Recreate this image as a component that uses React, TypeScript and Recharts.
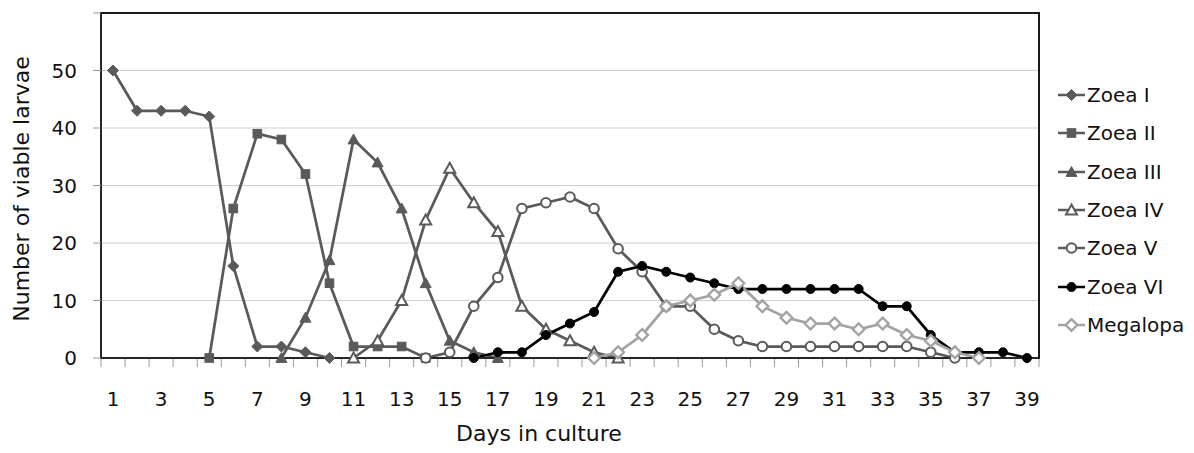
import React from 'react';
import { LineChart, Line, XAxis, YAxis, CartesianGrid, Legend, ReferenceArea } from 'recharts';

const FONT = '"DejaVu Sans", sans-serif';
const _ = null;

const days = [1,2,3,4,5,6,7,8,9,10,11,12,13,14,15,16,17,18,19,20,21,22,23,24,25,26,27,28,29,30,31,32,33,34,35,36,37,38,39];
const xTickLabels = [1,3,5,7,9,11,13,15,17,19,21,23,25,27,29,31,33,35,37,39];
const yTicks = [0,10,20,30,40,50,60];

//                1  2  3  4  5  6  7  8  9 10 11 12 13 14 15 16 17 18 19 20 21 22 23 24 25 26 27 28 29 30 31 32 33 34 35 36 37 38 39
const zoeaI =    [50,43,43,43,42,16, 2, 2, 1, 0, _, _, _, _, _, _, _, _, _, _, _, _, _, _, _, _, _, _, _, _, _, _, _, _, _, _, _, _, _];
const zoeaII =   [ _, _, _, _, 0,26,39,38,32,13, 2, 2, 2, 0, _, _, _, _, _, _, _, _, _, _, _, _, _, _, _, _, _, _, _, _, _, _, _, _, _];
const zoeaIII =  [ _, _, _, _, _, _, _, 0, 7,17,38,34,26,13, 3, 1, 0, _, _, _, _, _, _, _, _, _, _, _, _, _, _, _, _, _, _, _, _, _, _];
const zoeaIV =   [ _, _, _, _, _, _, _, _, _, _, 0, 3,10,24,33,27,22, 9, 5, 3, 1, 0, _, _, _, _, _, _, _, _, _, _, _, _, _, _, _, _, _];
const zoeaV =    [ _, _, _, _, _, _, _, _, _, _, _, _, _, 0, 1, 9,14,26,27,28,26,19,15, 9, 9, 5, 3, 2, 2, 2, 2, 2, 2, 2, 1, 0, _, _, _];
const zoeaVI =   [ _, _, _, _, _, _, _, _, _, _, _, _, _, _, _, 0, 1, 1, 4, 6, 8,15,16,15,14,13,12,12,12,12,12,12, 9, 9, 4, 1, 1, 1, 0];
const megalopa = [ _, _, _, _, _, _, _, _, _, _, _, _, _, _, _, _, _, _, _, _, 0, 1, 4, 9,10,11,13, 9, 7, 6, 6, 5, 6, 4, 3, 1, 0, _, _];

const seriesNames = ['Zoea I','Zoea II','Zoea III','Zoea IV','Zoea V','Zoea VI','Megalopa'];
const seriesKeys = ['zoeaI','zoeaII','zoeaIII','zoeaIV','zoeaV','zoeaVI','megalopa'];
const seriesValues = [zoeaI, zoeaII, zoeaIII, zoeaIV, zoeaV, zoeaVI, megalopa];

const DARK = '#5a5a5a';
const seriesStyle = [
  { color: DARK, shape: 'diamond' },
  { color: DARK, shape: 'square' },
  { color: DARK, shape: 'triangle' },
  { color: DARK, shape: 'triangleOpen' },
  { color: DARK, shape: 'circleOpen' },
  { color: '#000000', shape: 'circle' },
  { color: '#a3a3a3', shape: 'diamondOpen' },
];

const data = days.map((d, i) => {
  const row: any = { day: d };
  seriesKeys.forEach((k, j) => { row[k] = seriesValues[j][i]; });
  return row;
});

const xBoundaries = [0, ...days].map((d) => d + 0.5);

function MarkerShape({ shape, cx, cy, color }: any) {
  switch (shape) {
    case 'diamond': {
      const r = 5.5;
      return <polygon points={`${cx},${cy - r} ${cx + r},${cy} ${cx},${cy + r} ${cx - r},${cy}`} fill={color} stroke={color} strokeWidth={1} />;
    }
    case 'square': {
      const h = 4.3;
      return <rect x={cx - h} y={cy - h} width={2 * h} height={2 * h} fill={color} stroke={color} strokeWidth={1} />;
    }
    case 'triangle': {
      const s = 5.5;
      return <polygon points={`${cx},${cy - s} ${cx + s},${cy + s * 0.8} ${cx - s},${cy + s * 0.8}`} fill={color} stroke={color} strokeWidth={1} />;
    }
    case 'triangleOpen': {
      const s = 5.5;
      return <polygon points={`${cx},${cy - s} ${cx + s},${cy + s * 0.8} ${cx - s},${cy + s * 0.8}`} fill="#fff" stroke={color} strokeWidth={2} />;
    }
    case 'circleOpen':
      return <circle cx={cx} cy={cy} r={4.8} fill="#fff" stroke={color} strokeWidth={2} />;
    case 'circle':
      return <circle cx={cx} cy={cy} r={4.5} fill={color} stroke={color} strokeWidth={1} />;
    case 'diamondOpen': {
      const r = 5.8;
      return <polygon points={`${cx},${cy - r} ${cx + r},${cy} ${cx},${cy + r} ${cx - r},${cy}`} fill="#fff" stroke={color} strokeWidth={2.4} />;
    }
    default:
      return null;
  }
}

function LegendContent(props: any) {
  const payload = [...(props.payload || [])].sort(
    (a: any, b: any) => seriesNames.indexOf(a.value) - seriesNames.indexOf(b.value)
  );
  return (
    <div style={{ fontFamily: FONT, fontSize: 20, color: '#111' }}>
      {payload.map((p: any, i: number) => {
        const idx = seriesNames.indexOf(p.value);
        const st = seriesStyle[idx >= 0 ? idx : i];
        return (
          <div key={p.value} style={{ display: 'flex', alignItems: 'center', height: 38.3, whiteSpace: 'nowrap' }}>
            <svg width={29} height={16} style={{ flex: 'none' }}>
              <line x1={0} y1={8} x2={27} y2={8} stroke={st.color} strokeWidth={2.5} />
              <MarkerShape shape={st.shape} cx={13.5} cy={8} color={st.color} />
            </svg>
            <span>{p.value}</span>
          </div>
        );
      })}
    </div>
  );
}

export default function App() {
  return (
    <div style={{ position: 'absolute', left: 0, top: 0, width: 1194, height: 453, background: '#fff' }}>
      <LineChart width={1194} height={453} data={data} margin={{ top: 13, right: 155, bottom: 93, left: 0 }}>
        <CartesianGrid horizontal vertical={false} stroke="#cfcfcf" strokeWidth={1} />
        <XAxis
          xAxisId="ticks"
          type="number"
          dataKey="day"
          domain={[0.5, 39.5]}
          allowDataOverflow
          ticks={xBoundaries}
          interval={0}
          tickFormatter={() => ''}
          tickLine={{ stroke: '#9a9a9a', strokeWidth: 1 }}
          tickSize={8}
          axisLine={false}
          height={1}
        />
        <XAxis
          type="number"
          dataKey="day"
          domain={[0.5, 39.5]}
          allowDataOverflow
          ticks={xTickLabels}
          interval={0}
          tickLine={false}
          tickSize={0}
          tickMargin={34}
          axisLine={{ stroke: '#262626', strokeWidth: 2 }}
          tick={{ fontFamily: FONT, fontSize: 20, fill: '#111' }}
          height={1}
        />
        <YAxis
          type="number"
          domain={[0, 60]}
          ticks={yTicks}
          interval={0}
          width={101}
          tickSize={8}
          tickMargin={16}
          tickLine={{ stroke: '#9a9a9a', strokeWidth: 1 }}
          axisLine={{ stroke: '#262626', strokeWidth: 2 }}
          tickFormatter={(v: number) => (v === 60 ? '' : String(v))}
          tick={{ fontFamily: FONT, fontSize: 20, fill: '#111' }}
        />
        <ReferenceArea x1={0.5} x2={39.5} y1={0} y2={60} fill="none" fillOpacity={0} stroke="#1a1a1a" strokeWidth={2} ifOverflow="visible" />
        {seriesKeys.map((k, j) => (
          <Line
            key={k}
            dataKey={k}
            name={seriesNames[j]}
            stroke={seriesStyle[j].color}
            strokeWidth={2.75}
            isAnimationActive={false}
            activeDot={false}
            dot={(p: any) =>
              p.cy == null || p.value == null ? (
                <g key={`${k}-${p.index}`} />
              ) : (
                <MarkerShape key={`${k}-${p.index}`} shape={seriesStyle[j].shape} cx={p.cx} cy={p.cy} color={seriesStyle[j].color} />
              )
            }
          />
        ))}
        <Legend
          layout="vertical"
          align="center"
          verticalAlign="middle"
          content={<LegendContent />}
          wrapperStyle={{ left: 1058, top: 76, width: 136 }}
        />
      </LineChart>
      <div
        style={{
          position: 'absolute', left: 539, top: 434, transform: 'translate(-50%, -50%)',
          fontFamily: FONT, fontSize: 22, color: '#111', whiteSpace: 'nowrap', lineHeight: 1,
        }}
      >
        Days in culture
      </div>
      <div
        style={{
          position: 'absolute', left: 22, top: 189, transform: 'translate(-50%, -50%) rotate(-90deg)',
          fontFamily: FONT, fontSize: 22, color: '#111', whiteSpace: 'nowrap', lineHeight: 1,
        }}
      >
        Number of viable larvae
      </div>
    </div>
  );
}
